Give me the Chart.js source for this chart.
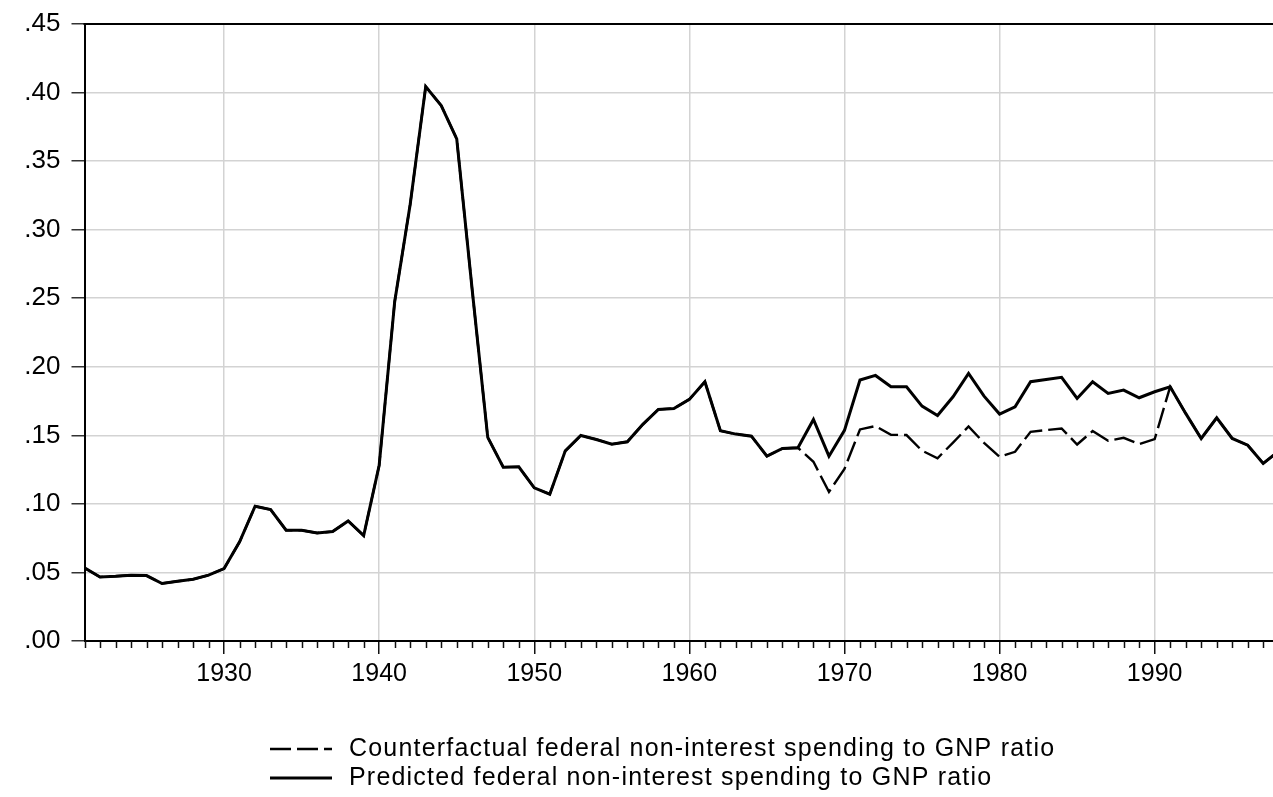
<!DOCTYPE html>
<html>
<head>
<meta charset="utf-8">
<script src="https://cdn.jsdelivr.net/npm/chart.js@4/dist/chart.umd.min.js"></script>
<style>
  html, body { margin: 0; padding: 0; background: #fff; }
  #wrap { width: 1273px; height: 797px; }
</style>
</head>
<body>
<div id="wrap"><canvas id="chart" width="1273" height="797"></canvas></div>
<script>
// Annual observations, 1921-1998
const years = [];
for (let y = 1921; y <= 1998; y++) years.push(y);

// Predicted federal non-interest spending to GNP ratio
const predicted = [
  0.0533, 0.0467, 0.0472, 0.0480, 0.0477, 0.0419, 0.0436, 0.0450, 0.0480, 0.0528, // 1921-1930
  0.0723, 0.0983, 0.0959, 0.0808, 0.0808, 0.0788, 0.0798, 0.0876, 0.0769, 0.1282, // 1931-1940
  0.2475, 0.3185, 0.4044, 0.3905, 0.3662, 0.2558, 0.1485, 0.1268, 0.1270, 0.1117, // 1941-1950
  0.1071, 0.1387, 0.1499, 0.1470, 0.1436, 0.1453, 0.1580, 0.1689, 0.1696, 0.1762, // 1951-1960
  0.1891, 0.1533, 0.1509, 0.1494, 0.1348, 0.1404, 0.1409, 0.1616, 0.1348, 0.1536, // 1961-1970
  0.1903, 0.1937, 0.1854, 0.1854, 0.1713, 0.1645, 0.1781, 0.1952, 0.1786, 0.1655, // 1971-1980
  0.1708, 0.1891, 0.1908, 0.1923, 0.1769, 0.1891, 0.1806, 0.1830, 0.1774, 0.1818, // 1981-1990
  0.1854, 0.1660, 0.1477, 0.1628, 0.1477, 0.1428, 0.1295, 0.1385                  // 1991-1998
];

// Counterfactual federal non-interest spending to GNP ratio
const counterfactual = [
  0.0533, 0.0467, 0.0472, 0.0480, 0.0477, 0.0419, 0.0436, 0.0450, 0.0480, 0.0528, // 1921-1930
  0.0723, 0.0983, 0.0959, 0.0808, 0.0808, 0.0788, 0.0798, 0.0876, 0.0769, 0.1282, // 1931-1940
  0.2475, 0.3185, 0.4044, 0.3905, 0.3662, 0.2558, 0.1485, 0.1268, 0.1270, 0.1117, // 1941-1950
  0.1071, 0.1387, 0.1499, 0.1470, 0.1436, 0.1453, 0.1580, 0.1689, 0.1696, 0.1762, // 1951-1960
  0.1891, 0.1533, 0.1509, 0.1494, 0.1348, 0.1404, 0.1409, 0.1307, 0.1088, 0.1255, // 1961-1970
  0.1543, 0.1568, 0.1504, 0.1502, 0.1388, 0.1333, 0.1447, 0.1565, 0.1445, 0.1343, // 1971-1980
  0.1380, 0.1526, 0.1538, 0.1550, 0.1433, 0.1531, 0.1460, 0.1482, 0.1436, 0.1472, // 1981-1990
  0.1854, 0.1660, 0.1477, 0.1628, 0.1477, 0.1428, 0.1295, 0.1385                  // 1991-1998
];

// Axis settings
const xMin = 1921;
const xMax = 1997.63;
const yMax = 0.45;
const yStep = 0.05;

const seriesLabels = [
  'Counterfactual federal non-interest spending to GNP ratio',
  'Predicted federal non-interest spending to GNP ratio'
];

const FONT = '"Liberation Sans", Arial, sans-serif';
const GRID = '#d3d3d3';

const toPoints = vals => years.map((yr, i) => ({ x: yr, y: vals[i] }));

// Frame on top, yearly minor ticks and the two-row legend underneath
const decorations = {
  id: 'decorations',
  afterDraw(chart) {
    const { ctx, chartArea: a } = chart;
    const xs = chart.scales.x;
    ctx.save();

    ctx.strokeStyle = '#000';
    ctx.lineWidth = 2;
    ctx.beginPath();
    ctx.moveTo(a.left - 1, a.top);
    ctx.lineTo(a.right + 1, a.top);
    ctx.stroke();

    ctx.strokeStyle = '#111';
    ctx.lineWidth = 1.5;
    years.forEach(yr => {
      if (yr % 10 === 0) return;
      const px = xs.getPixelForValue(yr);
      if (px > a.right + 0.5) return;
      ctx.beginPath();
      ctx.moveTo(Math.round(px) + 0.5, a.bottom);
      ctx.lineTo(Math.round(px) + 0.5, a.bottom + 7);
      ctx.stroke();
    });

    const rows = [chart.data.datasets[0], chart.data.datasets[1]];
    const sampleX = 270, sampleW = 62, textX = 349;
    const rowY = [a.bottom + 108, a.bottom + 137];
    ctx.font = '25px ' + FONT;
    if ('letterSpacing' in ctx) ctx.letterSpacing = '1.2px';
    ctx.textBaseline = 'middle';
    ctx.textAlign = 'left';
    rows.forEach((ds, i) => {
      const y = rowY[i];
      ctx.strokeStyle = ds.borderColor;
      ctx.lineWidth = ds.borderWidth;
      ctx.setLineDash(ds.borderDash || []);
      ctx.beginPath();
      ctx.moveTo(sampleX, y);
      ctx.lineTo(sampleX + sampleW, y);
      ctx.stroke();
      ctx.setLineDash([]);
      ctx.fillStyle = '#000';
      ctx.fillText(ds.label, textX, y);
    });
    ctx.restore();
  }
};

new Chart(document.getElementById('chart'), {
  type: 'line',
  data: {
    datasets: [
      {
        label: seriesLabels[0],
        data: toPoints(counterfactual),
        borderColor: '#000',
        borderWidth: 2.4,
        borderDash: [21, 6],
        pointRadius: 0,
        tension: 0,
        order: 1
      },
      {
        label: seriesLabels[1],
        data: toPoints(predicted),
        borderColor: '#000',
        borderWidth: 3,
        pointRadius: 0,
        tension: 0,
        order: 0
      }
    ]
  },
  options: {
    responsive: false,
    animation: false,
    layout: { padding: { top: 24, right: 0, bottom: 0, left: 0 } },
    plugins: {
      legend: { display: false },
      tooltip: { enabled: false }
    },
    scales: {
      x: {
        type: 'linear',
        min: xMin,
        max: xMax,
        afterFit: s => { s.height = 156; s.paddingLeft = 0; s.paddingRight = 0; },
        border: { display: true, color: '#000', width: 2 },
        grid: {
          color: c => (c.tick && c.tick.value % 10 === 0 && c.tick.value !== xMin) ? GRID : 'rgba(0,0,0,0)',
          lineWidth: 1.5,
          tickLength: 13,
          tickWidth: 1.5,
          tickColor: c => (c.tick && c.tick.value % 10 === 0) ? '#111' : 'rgba(0,0,0,0)'
        },
        ticks: {
          stepSize: 1,
          autoSkip: false,
          includeBounds: false,
          maxRotation: 0,
          padding: 5,
          color: '#000',
          font: { family: FONT, size: 25 },
          callback: v => (v % 10 === 0 ? String(v) : '')
        }
      },
      y: {
        min: 0,
        max: yMax,
        afterFit: s => { s.width = 84.5; s.paddingTop = 0; s.paddingBottom = 0; },
        border: { display: true, color: '#000', width: 2 },
        grid: {
          color: c => (c.tick && (c.tick.value <= 0.0001 || c.tick.value >= yMax - 0.0001)) ? 'rgba(0,0,0,0)' : GRID,
          lineWidth: 1.5,
          tickLength: 13,
          tickWidth: 1.5,
          tickColor: '#333'
        },
        ticks: {
          stepSize: yStep,
          padding: 11,
          color: '#000',
          font: { family: FONT, size: 26 },
          callback: v => v.toFixed(2).replace(/^0/, '')
        }
      }
    }
  },
  plugins: [decorations]
});
</script>
</body>
</html>
